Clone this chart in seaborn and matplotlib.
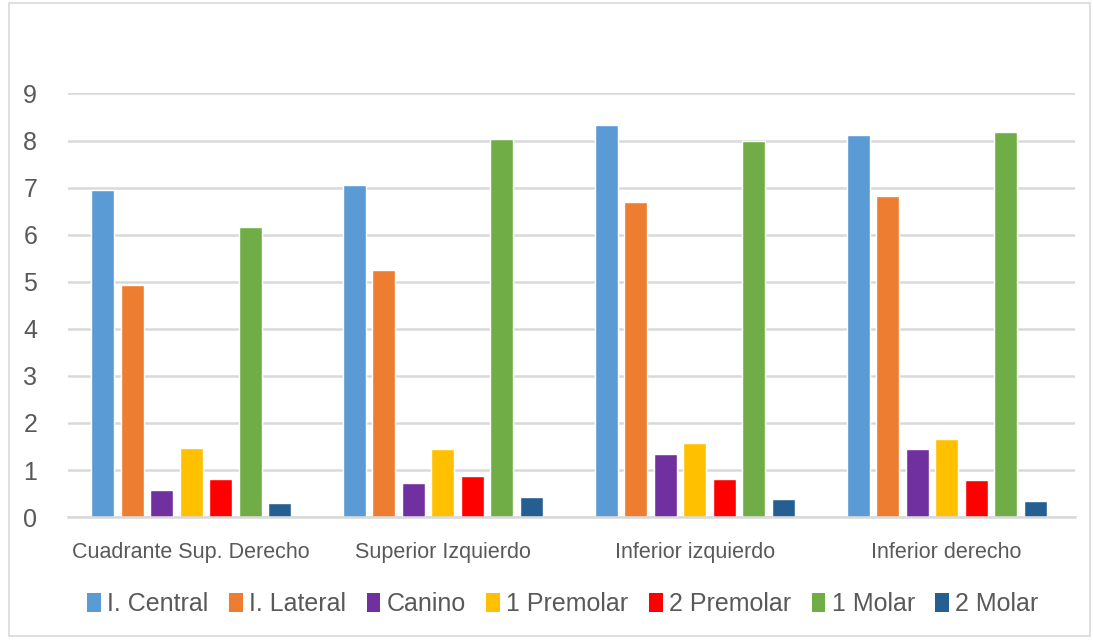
import matplotlib
matplotlib.use("Agg")
import matplotlib.pyplot as plt
import seaborn as sns
import pandas as pd
from matplotlib.patches import Rectangle, Patch

categories = ["Cuadrante Sup. Derecho", "Superior Izquierdo", "Inferior izquierdo", "Inferior derecho"]
series_names = ["I. Central", "I. Lateral", "Canino", "1 Premolar", "2 Premolar", "1 Molar", "2 Molar"]
i_central = [6.95, 7.05, 8.32, 8.12]
i_lateral = [4.93, 5.24, 6.69, 6.82]
canino = [0.58, 0.72, 1.35, 1.44]
premolar_1 = [1.46, 1.44, 1.57, 1.66]
premolar_2 = [0.81, 0.87, 0.82, 0.79]
molar_1 = [6.17, 8.04, 7.99, 8.19]
molar_2 = [0.29, 0.43, 0.38, 0.35]
y_ticks = [0, 1, 2, 3, 4, 5, 6, 7, 8, 9]

colors = ["#5B9BD5", "#ED7D31", "#7030A0", "#FFC000", "#FF0000", "#70AD47", "#255E91"]

all_series = [i_central, i_lateral, canino, premolar_1, premolar_2, molar_1, molar_2]
rows = []
for name, vals in zip(series_names, all_series):
    for cat, v in zip(categories, vals):
        rows.append({"cat": cat, "serie": name, "val": v})
df = pd.DataFrame(rows)

sns.set_theme(style="white")
plt.rcParams["font.family"] = ["Liberation Sans", "DejaVu Sans"]

fig = plt.figure(figsize=(10.93, 6.40), dpi=100)
ax = fig.add_axes([0.062, 0.192, 0.9215, 0.662])

sns.barplot(data=df, x="cat", y="val", hue="serie", order=categories,
            hue_order=series_names, palette=colors, width=0.82, gap=0.22,
            saturation=1, ax=ax, legend=False, errorbar=None)

ax.set_ylim(0, 9)
ax.set_xlim(-0.49, 3.51)
ax.set_yticks(y_ticks)
ax.set_yticklabels([str(t) for t in y_ticks], fontsize=18, color="#595959")
ax.tick_params(axis="x", labelsize=15.5, labelcolor="#595959", length=0, pad=18)
ax.tick_params(axis="y", length=0, pad=22)
ax.set_xlabel("")
ax.set_ylabel("")
ax.grid(axis="y", color="#d9d9d9", linewidth=1.8)
ax.set_axisbelow(True)
for s in ["top", "right", "left"]:
    ax.spines[s].set_visible(False)
ax.spines["bottom"].set_color("#d9d9d9")
ax.spines["bottom"].set_linewidth(1.8)

handles = [Patch(facecolor=c, edgecolor="none", label=n) for c, n in zip(colors, series_names)]
leg = fig.legend(handles=handles, loc="center", bbox_to_anchor=(0.515, 0.056), ncol=7,
                 frameon=False, fontsize=18, handlelength=0.55, handleheight=0.75,
                 handletextpad=0.25, columnspacing=0.82)
for t in leg.get_texts():
    t.set_color("#595959")

fig.patches.append(Rectangle((0.008, 0.006), 0.989, 0.99, transform=fig.transFigure,
                             fill=False, edgecolor="#d9d9d9", linewidth=1.2))

fig.savefig("out.png", dpi=100)
